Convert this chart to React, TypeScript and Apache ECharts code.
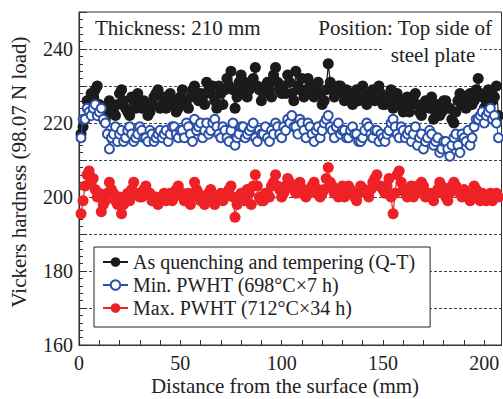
import React, { useEffect, useRef } from 'react';
import * as echarts from 'echarts';

const distances = [
  1,2,3,4,5,6,7,8,9,10,11,12,13,14,15,16,17,18,19,20,
  21,22,23,24,25,26,27,28,29,30,31,32,33,34,35,36,37,38,39,40,
  41,42,43,44,45,46,47,48,49,50,51,52,53,54,55,56,57,58,59,60,
  61,62,63,64,65,66,67,68,69,70,71,72,73,74,75,76,77,78,79,80,
  81,82,83,84,85,86,87,88,89,90,91,92,93,94,95,96,97,98,99,100,
  101,102,103,104,105,106,107,108,109,110,111,112,113,114,115,116,117,118,119,120,
  121,122,123,124,125,126,127,128,129,130,131,132,133,134,135,136,137,138,139,140,
  141,142,143,144,145,146,147,148,149,150,151,152,153,154,155,156,157,158,159,160,
  161,162,163,164,165,166,167,168,169,170,171,172,173,174,175,176,177,178,179,180,
  181,182,183,184,185,186,187,188,189,190,191,192,193,194,195,196,197,198,199,200,
  201,202,203,204,205,206,207,
];

const qtValues = [
  217,219,221,226,224,228,227,229,230,225,
  222,224,221,223,226,225,223,222,225,228,
  229,226,224,223,222,227,226,224,228,225,
  224,226,225,222,223,225,227,228,229,224,
  225,227,224,226,228,225,226,223,224,227,
  229,226,225,224,227,229,230,227,226,228,
  227,225,231,229,228,230,226,224,230,228,
  225,229,232,230,234,229,224,227,231,233,
  229,231,227,229,231,232,235,230,229,226,
  228,230,231,229,227,233,235,231,229,228,
  230,228,233,231,228,226,234,230,229,232,
  227,229,232,230,229,227,230,231,228,225,
  226,229,236,231,229,227,228,230,230,228,
  226,229,228,227,225,228,229,226,227,230,
  228,225,226,228,229,226,227,230,228,225,
  225,227,227,229,224,226,228,225,226,223,
  224,227,223,225,227,228,225,223,222,224,
  226,225,224,227,221,223,225,222,223,226,
  226,224,224,221,220,223,226,228,225,227,
  224,226,228,225,226,229,232,228,227,224,
  225,229,228,226,227,230,222,
];

const minPwhtValues = [
  216,221,221,224,223,222,224,225,222,223,
  224,221,220,217,213,216,217,219,215,217,
  218,215,216,218,219,217,215,216,217,219,
  218,216,216,215,218,217,215,216,217,218,
  216,217,218,215,217,219,219,217,216,218,
  218,216,220,219,217,215,221,218,219,220,
  216,218,220,217,218,220,221,219,217,216,
  219,218,216,215,218,220,214,216,217,219,
  219,216,217,218,219,220,216,215,218,217,
  217,219,216,215,218,217,220,219,217,216,
  219,218,221,220,222,219,219,217,221,220,
  218,216,220,219,217,215,218,219,216,218,
  220,221,222,219,218,216,219,220,217,218,
  218,216,216,218,219,217,217,215,215,216,
  218,220,219,217,216,218,218,215,217,216,
  215,217,218,220,221,219,217,216,219,218,
  216,217,218,215,217,219,214,216,217,213,
  215,216,218,217,214,215,216,212,213,215,
  215,213,211,214,216,217,214,212,217,216,
  215,218,214,216,219,221,221,222,223,220,
  222,223,224,221,222,220,216,
];

const maxPwhtValues = [
  195.5,199,203,206,207,204,205,202,200,201,
  196,198,199,201,204,202,201,199,198,200,
  195.5,198,200,201,199,202,204,201,201,200,
  200,202,203,201,201,199,199,200,198,199,
  200,201,199,200,201,199,200,202,203,201,
  201,199,200,201,198,200,204,202,201,199,
  200,198,199,201,202,200,198,199,200,201,
  199,200,201,202,203,200,194.5,198,199,201,
  200,199,202,201,198,203,206,203,200,199,
  199,201,201,200,203,204,206,203,202,200,
  201,203,205,204,203,202,201,203,204,201,
  202,200,201,202,203,204,201,202,200,201,
  202,205,208,204,203,201,201,200,202,203,
  200,201,203,202,201,200,199,201,203,202,
  202,201,200,202,204,205,206,203,203,202,
  201,203,205,200,195.5,201,206,207,204,202,
  201,200,202,203,200,201,203,202,204,203,
  200,201,201,200,199,201,202,204,203,201,
  200,199,201,203,204,203,202,201,200,202,
  201,200,199,201,203,202,200,199,201,200,
  199,200,201,199,200,201,200,
];

const seriesNames = [
  'As quenching and tempering (Q-T)',
  'Min. PWHT (698°C×7 h)',
  'Max. PWHT (712°C×34 h)',
];

const yTickLabels = [160, 180, 200, 220, 240];
const xTickLabels = [0, 50, 100, 150, 200];

const FONT = '"Liberation Serif", "Times New Roman", serif';
const BLACK = '#1b1b1b';
const BLUE = '#2a50a8';
const RED = '#ee2226';
const TEXT = '#222';

export default function App() {
  const ref = useRef<HTMLDivElement>(null);
  useEffect(() => {
    if (!ref.current) return;
    const chart = echarts.init(ref.current, undefined, { renderer: 'svg' });
    const pts = (vals: number[]) => distances.map((d, i) => [d, vals[i]]);
    chart.setOption({
      animation: false,
      backgroundColor: '#fff',
      grid: {
        left: 79, right: 1.5, top: 12, bottom: 54,
        show: true, borderColor: '#333', borderWidth: 1, backgroundColor: 'transparent',
      },
      xAxis: {
        type: 'value', min: 0, max: 208.5, interval: 10,
        axisLine: { show: true, lineStyle: { color: '#333', width: 1.2 } },
        axisTick: { show: true, inside: true, length: 5, lineStyle: { color: '#333' } },
        axisLabel: {
          fontSize: 20, fontFamily: FONT, color: TEXT, margin: 8,
          formatter: (v: number) => (xTickLabels.includes(v) ? String(v) : ''),
          showMaxLabel: false,
        },
        splitLine: { show: false },
      },
      yAxis: {
        type: 'value', min: 160, max: 250, interval: 10,
        axisLine: { show: true, lineStyle: { color: '#333', width: 1.2 } },
        axisTick: { show: true, inside: true, length: 8, lineStyle: { color: '#333' } },
        minorTick: { show: true, splitNumber: 5, length: 4, lineStyle: { color: '#333' } },
        axisLabel: {
          fontSize: 20, fontFamily: FONT, color: TEXT, margin: 6,
          formatter: (v: number) => (yTickLabels.includes(v) ? String(v) : ''),
        },
        splitLine: {
          show: true, showMinLine: false, showMaxLine: false,
          lineStyle: { color: '#444', width: 1, type: [3, 2] },
        },
      },
      legend: {
        orient: 'vertical', left: 94, top: 247,
        data: seriesNames,
        itemWidth: 25, itemHeight: 12, itemGap: 3,
        padding: [5, 15, 9, 8],
        borderColor: '#222', borderWidth: 1, backgroundColor: '#fff',
        textStyle: { fontSize: 20, fontFamily: FONT, color: TEXT },
      },
      series: [
        {
          type: 'line', name: seriesNames[0], data: pts(qtValues),
          symbol: 'circle', symbolSize: 11,
          itemStyle: { color: BLACK }, lineStyle: { color: BLACK, width: 1.2 }, z: 3,
        },
        {
          type: 'line', name: seriesNames[1], data: pts(minPwhtValues),
          symbol: 'emptyCircle', symbolSize: 9,
          itemStyle: { color: BLUE, borderColor: BLUE, borderWidth: 2 },
          lineStyle: { color: BLUE, width: 1.2 }, z: 4,
        },
        {
          type: 'line', name: seriesNames[2], data: pts(maxPwhtValues),
          symbol: 'circle', symbolSize: 11,
          itemStyle: { color: RED }, lineStyle: { color: RED, width: 1.2 }, z: 3,
        },
      ],
      graphic: [
        { type: 'rect', z: 50, shape: { x: 382, y: 44, width: 98, height: 8 }, style: { fill: '#fff' } },
        { type: 'text', z: 51, x: 95, y: 28, style: { text: 'Thickness: 210 mm', font: `21px ${FONT}`, fill: TEXT, textAlign: 'left', textVerticalAlign: 'middle' } },
        { type: 'text', z: 51, x: 492, y: 28, style: { text: 'Position: Top side of', font: `21px ${FONT}`, fill: TEXT, textAlign: 'right', textVerticalAlign: 'middle' } },
        { type: 'text', z: 51, x: 433, y: 55, style: { text: 'steel plate', font: `21px ${FONT}`, fill: TEXT, textAlign: 'center', textVerticalAlign: 'middle' } },
        { type: 'text', z: 51, x: 19, y: 172, rotation: Math.PI / 2, style: { text: 'Vickers hardness (98.07 N load)', font: `21px ${FONT}`, fill: TEXT, textAlign: 'center', textVerticalAlign: 'middle' } },
        { type: 'text', z: 51, x: 285, y: 386, style: { text: 'Distance from the surface (mm)', font: `21px ${FONT}`, fill: TEXT, textAlign: 'center', textVerticalAlign: 'middle' } },
      ],
    });
    return () => chart.dispose();
  }, []);
  return <div ref={ref} style={{ position: 'fixed', left: 0, top: 0, width: 503, height: 399 }} />;
}
